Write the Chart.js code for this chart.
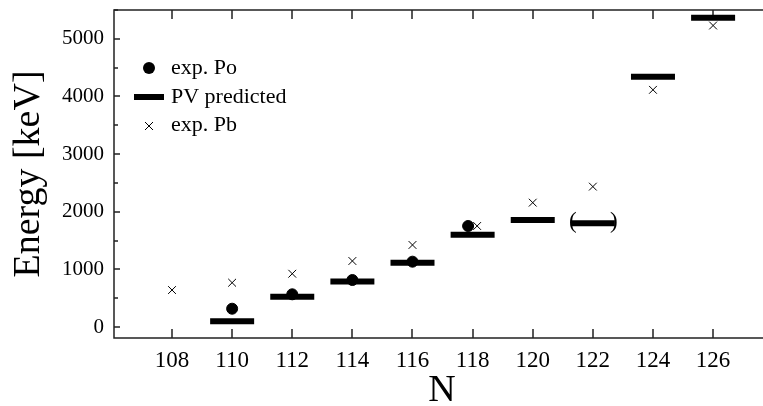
<!DOCTYPE html>
<html>
<head>
<meta charset="utf-8">
<script src="https://cdn.jsdelivr.net/npm/chart.js@4.4.1/dist/chart.umd.min.js"></script>
<style>
    body { margin: 0; background: #fff; }
    canvas { display: block; }
</style>
</head>
<body>
<canvas id="energy-chart" width="763" height="406"></canvas>
<script>
// data
const nTicks = [108, 110, 112, 114, 116, 118, 120, 122, 124, 126];
const yTicks = [0, 1000, 2000, 3000, 4000, 5000];

const pvN = [110, 112, 114, 116, 118, 120, 122, 124, 126];
const pvEnergy = [100, 525, 790, 1115, 1600, 1855, 1800, 4340, 5365];

const poN = [110, 112, 114, 116, 117.85];
const poEnergy = [318, 568, 816, 1134, 1753];

const pbN = [108, 110, 112, 114, 116, 118.15, 120, 122, 124, 126];
const pbEnergy = [642, 769, 925, 1146, 1424, 1753, 2158, 2436, 4115, 5231];

// PV value that is bracketed in the figure
const bracketN = 122;

const serif = "'Liberation Serif', 'Times New Roman', serif";
Chart.defaults.font.family = serif;
Chart.defaults.color = '#000';

function toPoints(xs, ys) {
    let pts = [];
    for (let i = 0; i < xs.length; i++) {
        pts.push({x: xs[i], y: ys[i]});
    }
    return pts;
}

// frame, inward ticks, legend, titles
const decorations = {
    id: 'decorations',
    beforeDatasetsDraw(chart) {
        const ctx = chart.ctx;
        const area = chart.chartArea;
        const xs = chart.scales.x;
        const ys = chart.scales.y;
        ctx.save();
        ctx.strokeStyle = '#222';
        ctx.lineWidth = 1.5;
        ctx.beginPath();
        ctx.moveTo(area.right, area.top);
        ctx.lineTo(area.left, area.top);
        ctx.lineTo(area.left, area.bottom);
        ctx.lineTo(area.right, area.bottom);
        ctx.stroke();

        ctx.beginPath();
        nTicks.forEach(function(n) {
            const px = Math.round(xs.getPixelForValue(n));
            ctx.moveTo(px, area.bottom);
            ctx.lineTo(px, area.bottom - 9);
            ctx.moveTo(px, area.top);
            ctx.lineTo(px, area.top + 9);
        });
        for (let v = 0; v <= 5500; v += 500) {
            const py = Math.round(ys.getPixelForValue(v));
            const len = (v % 1000 == 0) ? 6 : 4;
            ctx.moveTo(area.left, py);
            ctx.lineTo(area.left + len, py);
        }
        ctx.stroke();
        ctx.restore();
    },
    afterDraw(chart) {
        const ctx = chart.ctx;
        const xs = chart.scales.x;
        const ys = chart.scales.y;
        ctx.save();
        ctx.fillStyle = '#000';
        ctx.strokeStyle = '#000';

        // brackets around the 122 prediction
        const i = pvN.indexOf(bracketN);
        const bx = xs.getPixelForValue(bracketN);
        const by = ys.getPixelForValue(pvEnergy[i]);
        ctx.font = '23px ' + serif;
        ctx.textAlign = 'center';
        ctx.textBaseline = 'middle';
        ctx.fillText('(', bx - 20, by - 1);
        ctx.fillText(')', bx + 21, by - 1);

        // legend
        ctx.font = '22px ' + serif;
        ctx.beginPath();
        ctx.arc(149, 68, 6, 0, Math.PI * 2);
        ctx.fill();
        ctx.fillRect(134, 94, 30, 6);
        ctx.lineWidth = 1;
        ctx.beginPath();
        ctx.moveTo(145, 122); ctx.lineTo(153, 130);
        ctx.moveTo(153, 122); ctx.lineTo(145, 130);
        ctx.stroke();
        ctx.textAlign = 'left';
        ctx.textBaseline = 'alphabetic';
        ctx.fillText('exp. Po', 171, 74);
        ctx.fillText('PV predicted', 171, 103);
        ctx.fillText('exp. Pb', 171, 131);

        // axis titles
        ctx.font = '38px ' + serif;
        ctx.textAlign = 'center';
        ctx.fillText('N', 442, 401);
        ctx.translate(39, 174);
        ctx.rotate(-Math.PI / 2);
        ctx.fillText('Energy [keV]', 0, 0);
        ctx.restore();
    }
};

new Chart('energy-chart', {
    type: 'scatter',
    data: {
        datasets: [{
            label: 'PV predicted',
            data: toPoints(pvN, pvEnergy),
            pointStyle: 'line',
            pointRadius: 22,
            pointBorderWidth: 6,
            borderColor: '#000',
            backgroundColor: '#000',
            order: 3
        }, {
            label: 'exp. Po',
            data: toPoints(poN, poEnergy),
            pointStyle: 'circle',
            pointRadius: 5.5,
            pointBorderWidth: 1,
            borderColor: '#000',
            backgroundColor: '#000',
            order: 2
        }, {
            label: 'exp. Pb',
            data: toPoints(pbN, pbEnergy),
            pointStyle: 'crossRot',
            pointRadius: 5.5,
            pointBorderWidth: 1,
            borderColor: '#000',
            backgroundColor: '#000',
            order: 1
        }]
    },
    options: {
        responsive: false,
        animation: false,
        layout: {
            autoPadding: false,
            padding: {top: 10, right: 0, left: 0, bottom: 0}
        },
        plugins: {
            legend: {display: false},
            tooltip: {enabled: false}
        },
        scales: {
            x: {
                type: 'linear',
                min: 106.07,
                max: 127.66,
                grid: {display: false, drawTicks: false},
                border: {display: false},
                afterBuildTicks: function(scale) {
                    scale.ticks = nTicks.map(v => ({value: v}));
                },
                afterFit: function(scale) {
                    scale.height = 68;
                    scale.paddingLeft = 0;
                    scale.paddingRight = 0;
                },
                ticks: {
                    color: '#000',
                    padding: 9,
                    maxRotation: 0,
                    font: {family: serif, size: 23},
                    callback: function(value) { return String(value); }
                }
            },
            y: {
                min: -190,
                max: 5500,
                grid: {display: false, drawTicks: false},
                border: {display: false},
                afterBuildTicks: function(scale) {
                    scale.ticks = yTicks.map(v => ({value: v}));
                },
                afterFit: function(scale) {
                    scale.width = 114;
                    scale.paddingTop = 0;
                    scale.paddingBottom = 0;
                },
                ticks: {
                    color: '#000',
                    padding: 10,
                    font: {family: serif, size: 21},
                    callback: function(value) { return String(value); }
                }
            }
        }
    },
    plugins: [decorations]
});
</script>
</body>
</html>
